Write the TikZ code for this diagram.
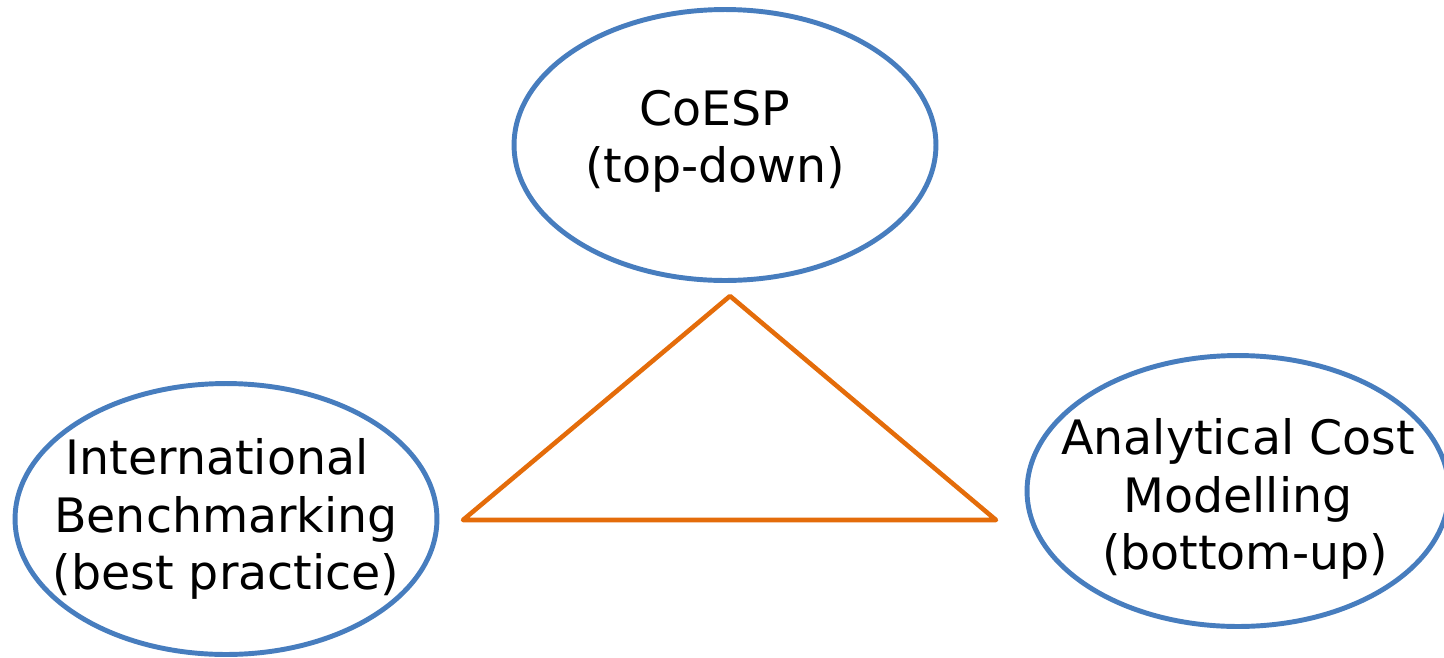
\documentclass[tikz,border=0pt]{standalone}
\usepackage{fontspec}
\setmainfont{DejaVu Sans}
\usetikzlibrary{shapes.geometric}

\definecolor{ringblue}{RGB}{71,125,190}
\definecolor{triorange}{RGB}{228,108,10}

\begin{document}
\begin{tikzpicture}[
  x=0.02cm, y=-0.02cm,
  approach/.style={draw=ringblue,line width=2.8pt,ellipse,inner sep=0pt,
    minimum width=8.44cm,minimum height=5.42cm},
  caption/.style={align=center,font=\fontsize{27}{32.5}\selectfont},
  link/.style={draw=triorange,line width=2.6pt,line join=round}
]
  \useasboundingbox (0,0) rectangle (1444,657);
  % the three approaches
  \node[approach] (coesp) at (725,145) {};
  \node[approach] (bench) at (226,519) {};
  \node[approach] (model) at (1238,491) {};
  \node[caption] (coesp-txt) at ([xshift=-0.2cm,yshift=0.08cm]coesp) {CoESP\\(top-down)};
  \node[caption] (bench-txt) at (bench) {International\hspace*{0.36cm}\\Benchmarking\\(best practice)};
  \node[caption] (model-txt) at ([yshift=-0.16cm]model) {Analytical Cost\\Modelling\\\hspace*{0.28cm}(bottom-up)};
  % triangle between them
  \coordinate (apex) at (730,296);
  \coordinate (baseL) at (463,520);
  \coordinate (baseR) at (996,520);
  \draw[link] (apex) -- (baseL) -- (baseR) -- cycle;
\end{tikzpicture}
\end{document}
